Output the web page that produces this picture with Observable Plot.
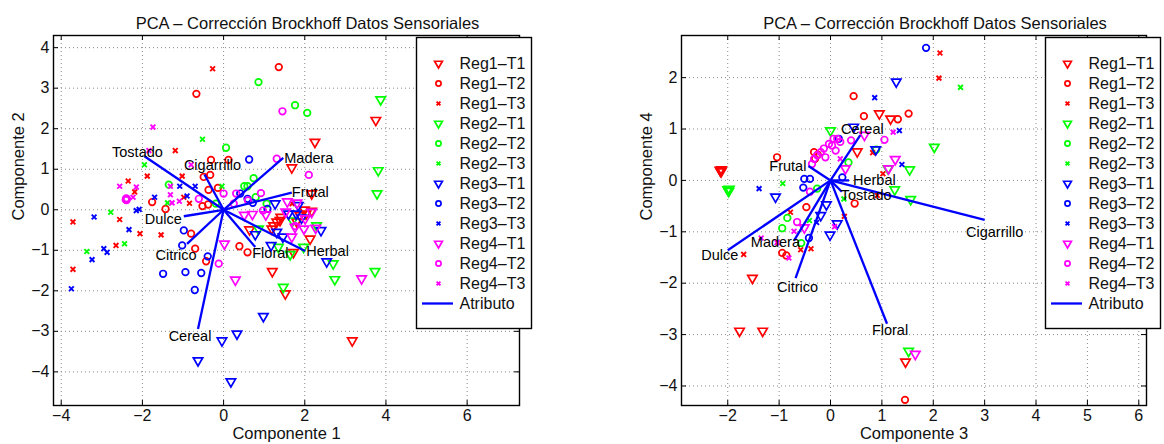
<!DOCTYPE html>
<html>
<head>
<meta charset="utf-8">
<script src="https://cdn.jsdelivr.net/npm/d3@7"></script>
<script src="https://cdn.jsdelivr.net/npm/@observablehq/plot@0.6"></script>
<style>
  html, body { margin: 0; padding: 0; background: #fff; }
  #wrap { position: relative; width: 1164px; height: 444px; background: #fff; overflow: hidden; }
  #wrap > * { position: absolute; }
</style>
</head>
<body>
<div id="wrap"></div>
<script>
// ---------------- DATA ----------------
const regions = ["Reg1", "Reg2", "Reg3", "Reg4"];
const treatments = ["T1", "T2", "T3"];
const regionColors = ["#ff0000", "#00ff00", "#0000ff", "#ff00ff"];
const chartTitle = "PCA – Corrección Brockhoff Datos Sensoriales";
const attributes = ["Tostado", "Cigarrillo", "Madera", "Frutal", "Dulce", "Citrico", "Cereal", "Floral", "Herbal"];

// attribute loadings (vector tips)
const loadings12 = [[-1.95, 1.32], [-0.47, 0.87], [1.47, 1.28], [1.68, 0.42], [-0.98, -0.16], [-0.90, -0.84], [-0.63, -2.94], [0.78, -0.92], [2.01, -1.02]];
const loadings34 = [[0.22, -0.22], [3.0, -0.77], [-0.71, -1.17], [-0.43, 0.28], [-2.0, -1.36], [-0.68, -1.90], [0.58, 0.88], [1.10, -2.79], [0.36, 0.0]];

// tick values
const xTicks12 = [-4, -2, 0, 2, 4, 6];
const yTicks12 = [-4, -3, -2, -1, 0, 1, 2, 3, 4];
const xTicks34 = [-2, -1, 0, 1, 2, 3, 4, 5, 6];
const yTicks34 = [-4, -3, -2, -1, 0, 1, 2];
const xLabel12 = "Componente 1", yLabel12 = "Componente 2";
const xLabel34 = "Componente 3", yLabel34 = "Componente 4";

// scores, Componente 1 vs 2
const pc12_reg1_t1 = [[3.75,2.21],[2.25,1.67],[1.68,1.04],[2.17,0.40],[2.17,-0.03],[1.99,0.0],[2.03,-0.10],[1.88,-0.14],[1.41,-0.18],[1.39,-0.26],[1.31,-0.30],[1.80,-0.29],[1.23,-0.39],[1.19,-0.47],[0.64,-0.49],[2.13,-0.72],[1.72,-1.05],[1.20,-1.52],[1.52,-2.07],[3.17,-3.23]];
const pc12_reg1_t2 = [[-0.67,2.86],[1.36,3.52],[-0.31,1.23],[0.12,1.23],[-0.49,0.81],[-0.33,0.86],[-0.37,0.49],[-0.14,0.54],[-1.76,0.19],[-1.43,0.02],[-0.52,0.09],[-0.38,0.13],[-0.80,-0.59],[-0.70,-0.96],[-0.43,-1.27],[0.39,-0.90],[0.59,-1.05]];
const pc12_reg1_t3 = [[-0.27,3.48],[-1.19,1.46],[-2.35,0.71],[-1.88,0.83],[-2.19,0.44],[-1.02,0.83],[-0.98,0.31],[-0.84,0.16],[-3.71,-0.30],[-2.56,-0.24],[-2.65,-0.88],[-2.06,-0.59],[-1.54,-0.62],[-3.71,-1.47],[1.69,0.15]];
const pc12_reg2_t1 = [[3.87,2.72],[3.81,0.97],[3.78,0.40],[3.73,-1.52],[2.74,-1.72],[2.70,-1.33],[1.64,-1.10],[1.47,-1.91],[1.97,-0.92],[1.35,-0.92],[0.86,-0.47],[2.29,-0.39],[1.70,-0.27]];
const pc12_reg2_t2 = [[0.86,3.15],[1.76,2.58],[2.06,2.39],[0.06,1.53],[0.74,0.78],[0.51,0.58],[0.59,0.58],[0.79,0.31],[-1.35,0.62],[1.06,0.15],[-0.19,0.15]];
const pc12_reg2_t3 = [[-0.52,1.74],[-1.95,1.11],[-2.78,-0.06],[-1.38,0.17],[-0.04,0.58],[-3.37,-1.03],[-2.44,-0.84]];
const pc12_reg3_t1 = [[-0.63,-3.72],[-0.04,-3.23],[0.33,-3.06],[0.18,-4.24],[0.98,-2.63],[2.54,-1.28],[1.17,-0.88],[0.78,-0.61],[1.31,-0.55],[1.46,-0.67],[2.40,-0.51],[1.27,0.15],[1.84,0.11],[1.60,-0.10],[1.92,-0.20],[1.79,-0.10]];
const pc12_reg3_t2 = [[0.63,1.24],[0.59,0.27],[0.72,0.17],[0.41,0.40],[1.08,0.02],[-0.98,-0.51],[-1.02,-0.88],[-0.39,-1.15],[-1.49,-1.58],[-0.94,-1.54],[-0.55,-1.56],[-0.71,-1.98]];
const pc12_reg3_t3 = [[-1.08,0.58],[-0.70,0.58],[-1.70,0.31],[-0.90,0.34],[-2.08,0.01],[-2.15,-0.02],[-3.19,-0.18],[-2.33,-0.49],[-2.95,-0.96],[-2.87,-1.05],[-3.24,-1.23],[-3.75,-1.95]];
const pc12_reg4_t1 = [[3.40,-1.70],[0.29,-1.73],[0.02,-0.84],[0.51,-0.13],[0.71,-0.11],[1.04,-0.12],[1.53,-0.05],[1.68,-0.67],[1.98,-0.47],[2.27,-0.45],[2.17,-0.06],[1.57,0.20],[1.81,0.17],[2.01,-0.22],[1.76,-0.43]];
const pc12_reg4_t2 = [[1.45,2.43],[1.31,1.26],[2.10,0.86],[0.92,0.41],[0.31,0.40],[0.0,0.40],[-0.61,0.27],[-2.40,0.26],[-2.38,0.27],[-2.41,0.25],[-2.39,0.24],[-2.40,0.28],[0.97,-0.02],[0.60,0.23],[0.25,0.15],[-0.12,-1.33],[1.76,-0.40]];
const pc12_reg4_t3 = [[-1.74,2.04],[-1.84,1.46],[-2.56,0.58],[-2.15,0.56],[-2.23,0.31],[-1.31,0.58],[-1.31,0.37],[-1.27,0.17],[-1.09,0.21],[-0.80,1.11]];

// scores, Componente 3 vs 4
const pc34_reg1_t1 = [[0.95,1.30],[1.17,1.20],[0.52,0.56],[-2.14,0.19],[-2.12,0.21],[-2.13,0.17],[-2.15,0.20],[-1.52,-1.90],[-1.77,-2.93],[-1.32,-2.93],[1.46,-3.53]];
const pc34_reg1_t2 = [[0.45,1.64],[0.65,1.25],[1.31,1.19],[1.52,1.30],[-1.04,0.45],[0.47,-0.45],[1.45,-4.27],[-0.47,-0.52],[-0.94,-1.41],[-0.86,-1.46],[-0.32,0.55],[-0.25,0.50],[-0.30,0.42]];
const pc34_reg1_t3 = [[2.13,2.48],[2.11,1.99],[0.82,0.54],[1.02,0.13],[-1.69,-1.44],[-0.58,-1.35],[-0.38,-1.33],[-0.78,-0.62],[0.27,-0.70],[0.91,-0.29]];
const pc34_reg2_t1 = [[-1.99,-0.19],[-1.97,-0.17],[-1.98,-0.21],[-2.00,-0.18],[2.02,0.65],[1.54,0.21],[1.12,0.23],[0.0,0.97],[1.25,-0.18],[1.56,-0.37],[1.52,-3.32]];
const pc34_reg2_t2 = [[0.89,0.60],[-0.84,-0.73],[-0.94,-0.93],[-0.57,-1.22],[-0.26,-0.16],[0.35,0.35]];
const pc34_reg2_t3 = [[2.53,1.81],[-0.93,-0.06],[0.26,-0.36],[-0.41,-0.78]];
const pc34_reg3_t1 = [[1.28,1.92],[0.45,1.04],[0.88,0.60],[-1.07,-0.32],[-0.01,-1.06],[0.13,-0.84],[-0.08,-0.47],[-0.19,-0.68]];
const pc34_reg3_t2 = [[1.86,2.58],[0.23,0.06],[-0.51,0.03],[-0.40,0.03],[-0.53,-0.14],[-0.42,-1.12],[0.16,0.81]];
const pc34_reg3_t3 = [[0.86,1.61],[1.34,0.97],[1.39,0.31],[-1.39,-0.16],[-0.27,-0.82]];
const pc34_reg4_t1 = [[0.66,0.88],[1.26,0.41],[1.13,0.23],[0.29,0.23],[1.65,-3.38],[-0.51,-0.92]];
const pc34_reg4_t2 = [[1.05,0.79],[0.40,0.78],[0.06,0.81],[-0.03,0.71],[0.03,0.68],[-0.13,0.62],[-0.19,0.55],[-0.26,0.49],[-0.32,0.42],[0.13,0.81],[0.19,0.75],[-0.10,0.45],[0.10,0.58],[-0.36,0.32],[-0.65,-0.81],[-0.40,-0.22]];
const pc34_reg4_t3 = [[1.22,0.94],[0.19,0.42],[-1.35,-1.12],[-1.04,-1.21],[-0.81,-1.51],[-0.71,-0.99],[0.08,-0.90]];

const pc12Groups = [pc12_reg1_t1, pc12_reg1_t2, pc12_reg1_t3, pc12_reg2_t1, pc12_reg2_t2, pc12_reg2_t3, pc12_reg3_t1, pc12_reg3_t2, pc12_reg3_t3, pc12_reg4_t1, pc12_reg4_t2, pc12_reg4_t3];
const pc34Groups = [pc34_reg1_t1, pc34_reg1_t2, pc34_reg1_t3, pc34_reg2_t1, pc34_reg2_t2, pc34_reg2_t3, pc34_reg3_t1, pc34_reg3_t2, pc34_reg3_t3, pc34_reg4_t1, pc34_reg4_t2, pc34_reg4_t3];

// ---------------- STYLE / LAYOUT ----------------
const FONT = '"Liberation Sans", Arial, Helvetica, sans-serif';
const intFormat = d3.format("d");
const triangleDown = {
  draw(ctx, size) {
    const y = Math.sqrt(size / (Math.sqrt(3) * 3));
    ctx.moveTo(0, 2 * y);
    ctx.lineTo(Math.sqrt(3) * y, -y);
    ctx.lineTo(-Math.sqrt(3) * y, -y);
    ctx.closePath();
  }
};
const symbolOf = {T1: triangleDown, T2: "circle", T3: "times"};
const sizeOf = {T1: 3.5, T2: 3.3, T3: 2.3};
const legendSizeOf = {T1: 2.9, T2: 2.6, T3: 1.9};
const strokeOf = {T1: 1.7, T2: 1.7, T3: 1.9};

// label placement per attribute (anchor, dx, dy)
const place12 = {
  Tostado: ["middle", -7, -4], Cigarrillo: ["middle", 8, -9], Madera: ["start", 1, 0], Frutal: ["start", 0, 0],
  Dulce: ["end", -2, 3], Citrico: ["middle", -11, 12], Cereal: ["middle", -8, 7], Floral: ["start", -3, 6], Herbal: ["start", 1, 0]
};
const place34 = {
  Tostado: ["start", -1, 4], Cigarrillo: ["middle", 10, 12], Madera: ["end", 6, 2], Frutal: ["end", -2, 0],
  Dulce: ["middle", -8, 5], Citrico: ["middle", 2, 9], Cereal: ["middle", 2, -6], Floral: ["middle", 3, 7], Herbal: ["start", 4, 0]
};

function toRows(groups) {
  const rows = [];
  let k = 0;
  for (const r of regions) for (const t of treatments) {
    for (const [x, y] of groups[k]) rows.push({region: r, treat: t, x, y});
    k++;
  }
  return rows;
}

function makeChart({groups, loads, place, xDomain, yDomain, xTicks, yTicks, xLabel, yLabel, marginLeft, marginRight}) {
  const W = 582, H = 444, mt = 35, mb = 39;
  const ph = H - mt - mb, pw = W - marginLeft - marginRight;
  const rows = toRows(groups);
  const vecs = attributes.map((name, i) => ({name, x: loads[i][0], y: loads[i][1]}));
  const gridStyle = {stroke: "#8a8a8a", strokeOpacity: 1, strokeWidth: 1, strokeDasharray: "1,3"};
  const marks = [
    Plot.gridX(xTicks, gridStyle),
    Plot.gridY(yTicks, gridStyle),
    Plot.tickX(xTicks, {x: d => d, insetTop: ph - 5, stroke: "black"}),
    Plot.tickX(xTicks, {x: d => d, insetBottom: ph - 5, stroke: "black"}),
    Plot.tickY(yTicks, {y: d => d, insetRight: pw - 5, stroke: "black"}),
    Plot.tickY(yTicks, {y: d => d, insetLeft: pw - 5, stroke: "black"}),
    Plot.axisX(xTicks, {tickSize: 0, tickPadding: 4, label: null, fontSize: 16, tickFormat: intFormat}),
    Plot.axisY(yTicks, {tickSize: 0, tickPadding: 4, label: null, fontSize: 16, tickFormat: intFormat})
  ];
  for (const r of regions) for (const t of treatments) {
    marks.push(Plot.dot(rows.filter(d => d.region === r && d.treat === t), {
      x: "x", y: "y", stroke: "region", fill: "none", symbol: symbolOf[t], r: sizeOf[t], strokeWidth: strokeOf[t]
    }));
  }
  marks.push(Plot.link(vecs, {x1: d => 0, y1: d => 0, x2: "x", y2: "y", stroke: "#0000ff", strokeWidth: 2.3}));
  for (const anchor of ["start", "middle", "end"]) {
    for (const v of vecs.filter(v => place[v.name][0] === anchor)) {
      marks.push(Plot.text([v], {x: "x", y: "y", text: "name", textAnchor: anchor, dx: place[v.name][1], dy: place[v.name][2], fontSize: 14.5, fill: "black"}));
    }
  }
  marks.push(
    Plot.frame({stroke: "black", strokeWidth: 1.4}),
    Plot.text([chartTitle], {text: d => d, frameAnchor: "top", dx: 21, dy: -18.5, fontSize: 16.5, fill: "#111"}),
    Plot.text([xLabel], {text: d => d, frameAnchor: "bottom", dy: 33, fontSize: 16.5, fill: "#111"}),
    Plot.text([yLabel], {text: d => d, frameAnchor: "left", dx: -35, rotate: -90, fontSize: 16.5, fill: "#111"})
  );
  return Plot.plot({
    width: W, height: H, marginLeft, marginRight, marginTop: mt, marginBottom: mb,
    x: {domain: xDomain},
    y: {domain: yDomain},
    color: {domain: regions, range: regionColors},
    style: {fontFamily: FONT, fontSize: "16px", background: "transparent", overflow: "visible", color: "#111"},
    marks
  });
}

function makeLegend() {
  const items = [];
  for (const r of regions) for (const t of treatments) items.push({label: `${r}–${t}`, region: r, treat: t});
  const labels = [...items.map(d => d.label), "Atributo"];
  const marks = [Plot.frame({fill: "white", stroke: "black", strokeWidth: 1.4})];
  for (const t of treatments) {
    marks.push(Plot.dot(items.filter(d => d.treat === t), {
      y: "label", frameAnchor: "left", dx: 22, stroke: "region", fill: "none",
      symbol: symbolOf[t], r: legendSizeOf[t], strokeWidth: strokeOf[t]
    }));
  }
  marks.push(
    Plot.text(labels, {y: d => d, text: d => d, frameAnchor: "left", dx: 43, textAnchor: "start", fontSize: 16, fill: "#111"}),
    Plot.tickY(["Atributo"], {y: d => d, insetLeft: 6, insetRight: 78, stroke: "#0000ff", strokeWidth: 2.3})
  );
  return Plot.plot({
    width: 115, height: 291, margin: 0,
    y: {type: "point", domain: labels, range: [13.5, 277.5], axis: null},
    color: {domain: regions, range: regionColors},
    style: {fontFamily: FONT, fontSize: "16px", background: "transparent", overflow: "visible"},
    marks
  });
}

const wrap = document.getElementById("wrap");
const left = makeChart({
  groups: pc12Groups, loads: loadings12, place: place12,
  xDomain: [-4.19, 7.29], yDomain: [-4.83, 4.30], xTicks: xTicks12, yTicks: yTicks12,
  xLabel: xLabel12, yLabel: yLabel12, marginLeft: 53, marginRight: 63
});
left.style.left = "0px"; left.style.top = "0px";
wrap.appendChild(left);

const right = makeChart({
  groups: pc34Groups, loads: loadings34, place: place34,
  xDomain: [-2.9, 6.15], yDomain: [-4.38, 2.82], xTicks: xTicks34, yTicks: yTicks34,
  xLabel: xLabel34, yLabel: yLabel34, marginLeft: 99, marginRight: 18
});
right.style.left = "582px"; right.style.top = "0px";
wrap.appendChild(right);

const leg1 = makeLegend();
leg1.style.left = "416px"; leg1.style.top = "37px";
wrap.appendChild(leg1);
const leg2 = makeLegend();
leg2.style.left = "1045px"; leg2.style.top = "37px";
wrap.appendChild(leg2);
</script>
</body>
</html>
